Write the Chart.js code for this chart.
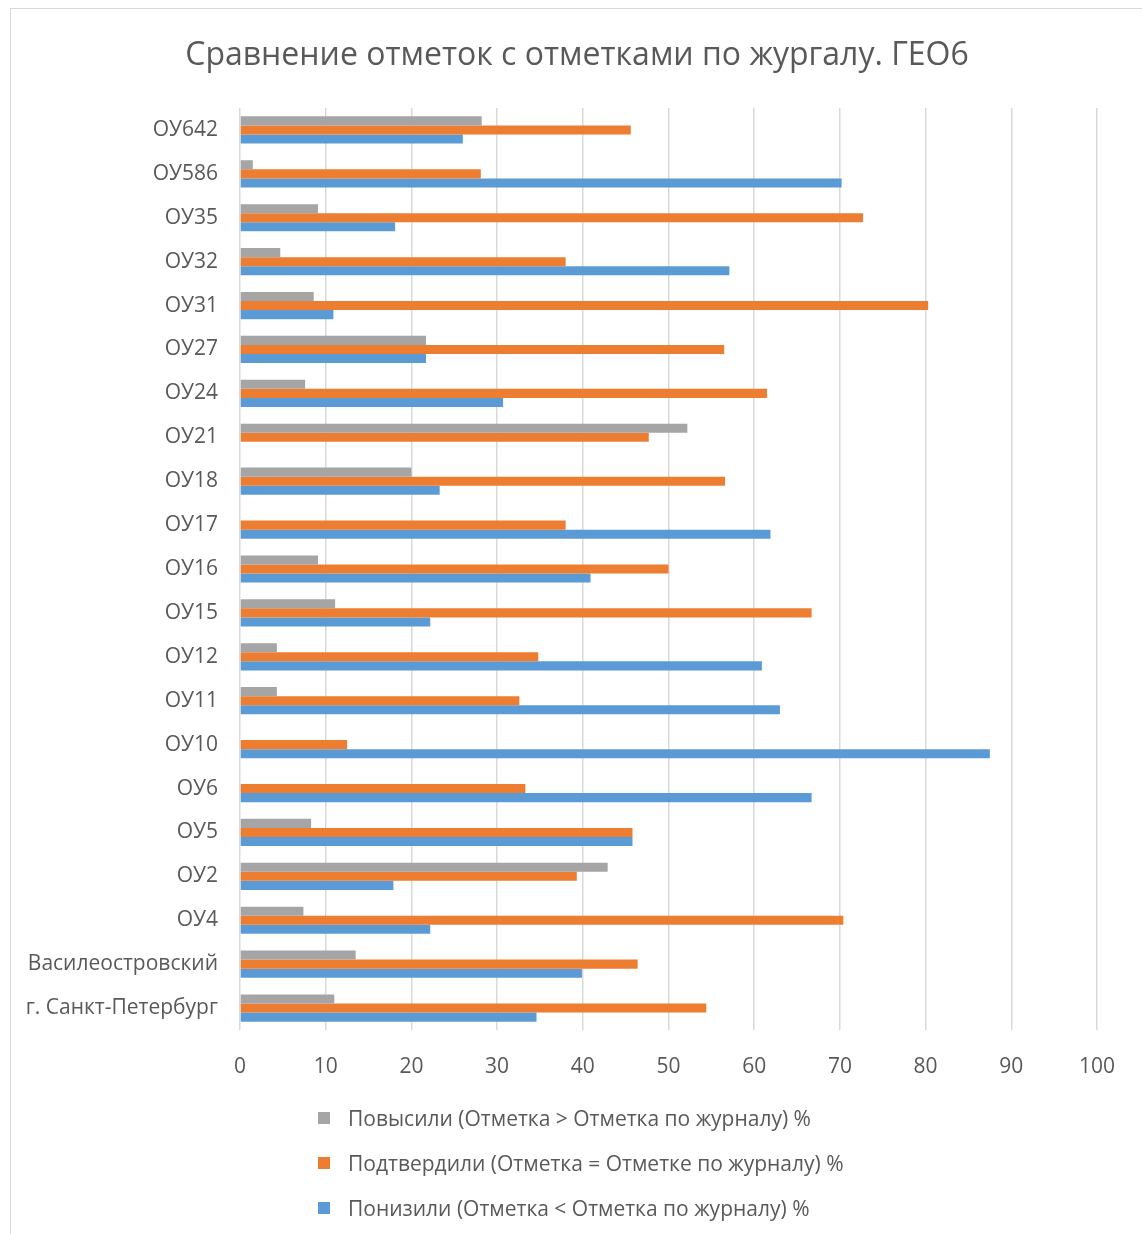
<!DOCTYPE html>
<html>
<head>
<meta charset="utf-8">
<script src="https://cdn.jsdelivr.net/npm/chart.js@4"></script>
<style>
    body { margin: 0; background: #fff; font-family: "Open Sans", sans-serif; }
    #wrap { position: relative; width: 1142px; height: 1234px; overflow: hidden; }
    #frame { position: absolute; left: 10px; top: 8px; width: 1140px; height: 1240px; border: 1px solid #d9d9d9; box-sizing: border-box; }
    canvas { position: absolute; left: 0; top: 0; }
    #title { position: absolute; left: 10px; width: 1134px; top: 31px; line-height: 44px; text-align: center; color: #595959; font-size: 32px; }
    #legend { position: absolute; left: 318px; top: 1100px; color: #595959; font-size: 21px; }
    .item { display: flex; align-items: center; height: 45px; }
    .item span.box { display: inline-block; width: 12px; height: 12px; margin-right: 18px; }
    .item:first-child { margin-top: -5px; }
</style>
</head>
<body>
<div id="wrap">
    <div id="frame"></div>
    <canvas id="chart" width="1142" height="1234"></canvas>
    <div id="title">Сравнение отметок с отметками по жургалу. ГЕО6</div>
    <div id="legend"></div>
</div>
<script>
// categories top to bottom as shown
const categories = ['ОУ642', 'ОУ586', 'ОУ35', 'ОУ32', 'ОУ31', 'ОУ27', 'ОУ24', 'ОУ21', 'ОУ18', 'ОУ17', 'ОУ16',
    'ОУ15', 'ОУ12', 'ОУ11', 'ОУ10', 'ОУ6', 'ОУ5', 'ОУ2', 'ОУ4', 'Василеостровский', 'г. Санкт-Петербург'];

const raised = [28.2, 1.5, 9.1, 4.7, 8.6, 21.7, 7.6, 52.2, 20.0, 0, 9.1,
    11.1, 4.3, 4.3, 0, 0, 8.3, 42.9, 7.4, 13.5, 11.0];
const confirmed = [45.6, 28.1, 72.7, 38.0, 80.3, 56.5, 61.5, 47.7, 56.6, 38.0, 50.0,
    66.7, 34.8, 32.6, 12.5, 33.3, 45.8, 39.3, 70.4, 46.4, 54.4];
const lowered = [26.0, 70.2, 18.1, 57.1, 10.9, 21.7, 30.7, 0, 23.3, 61.9, 40.9,
    22.2, 60.9, 63.0, 87.5, 66.7, 45.8, 17.9, 22.2, 39.9, 34.6];

const seriesNames = [
    'Повысили (Отметка > Отметка по журналу) %',
    'Подтвердили (Отметка = Отметке по журналу) %',
    'Понизили (Отметка < Отметка по журналу) %'
];
const colors = ['#A5A5A5', '#ED7D31', '#5B9BD5'];

const textColor = '#595959';
const font = '"Open Sans", sans-serif';

const ctx = document.getElementById('chart').getContext('2d');
new Chart(ctx, {
    type: 'bar',
    data: {
        labels: categories,
        datasets: [raised, confirmed, lowered].map((d, i) => ({
            label: seriesNames[i],
            data: d,
            backgroundColor: colors[i],
            borderWidth: 0,
            categoryPercentage: 0.62,
            barPercentage: 1
        }))
    },
    options: {
        indexAxis: 'y',
        responsive: false,
        animation: false,
        // title is html above, chart area starts at y=108
        layout: { padding: { left: 0, right: 45, top: 108, bottom: 144 } },
        scales: {
            x: {
                min: 0,
                max: 100,
                ticks: { stepSize: 10, color: textColor, font: { family: font, size: 21 }, padding: 24 },
                grid: { color: '#d9d9d9', lineWidth: 1.5, drawTicks: false },
                border: { display: false },
                afterFit: (scale) => { scale.height = 60; }
            },
            y: {
                ticks: { color: textColor, font: { family: font, size: 21 }, padding: 22 },
                grid: { display: false, drawTicks: false },
                border: { display: false },
                afterFit: (scale) => { scale.width = 240; }
            }
        },
        plugins: {
            legend: { display: false },
            tooltip: { enabled: false }
        }
    }
});

// legend as a vertical list, like the original
document.getElementById('legend').innerHTML = seriesNames.map((name, i) =>
    `<div class="item"><span class="box" style="background:${colors[i]}"></span>${name}</div>`
).join('');
</script>
</body>
</html>
